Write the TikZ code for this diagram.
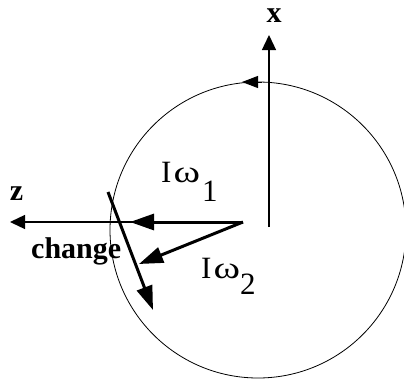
\documentclass[tikz,border=0pt]{standalone}
\usepackage{graphicx}
\usepackage{fontspec}
\setmainfont{Liberation Serif}
\usetikzlibrary{arrows.meta}
\begin{document}
\begin{tikzpicture}[x=1pt,y=-1pt,
  thinax/.style={line width=1.3pt,-{Triangle[length=15pt,width=14pt]}},
  vec/.style={line width=3pt,-{Triangle[length=24pt,width=16pt]}},
  axlbl/.style={font=\fontsize{30}{30}\selectfont\bfseries, inner sep=0pt, anchor=base},
  chglbl/.style={font=\fontsize{30}{30}\selectfont\bfseries, inner sep=0pt, anchor=base west},
  ilbl/.style={font=\fontsize{31}{31}\selectfont, inner sep=0pt, anchor=base west}]
\useasboundingbox (0,0) rectangle (404,380);
\coordinate (C) at (258,230);
\draw[line width=0.8pt] (C) circle[radius=148pt];
% axes
\coordinate (xa) at (269,227);
\coordinate (xt) at (269,35);
\coordinate (za) at (243,222);
\coordinate (zt) at (10,222);
\draw[thinax] (xa) -- (xt);
\draw[thinax] (za) -- (zt);
% rotation arrow on circle
\coordinate (ta) at (262,82);
\coordinate (tt) at (242,82);
\draw[line width=0.9pt,-{Triangle[length=16pt,width=12pt]}] (ta) -- (tt);
% vectors
\coordinate (O) at (243,222);
\coordinate (w1) at (130,222);
\coordinate (w2) at (139,264);
\coordinate (cs) at (108,192);
\coordinate (ce) at (153,310);
\draw[vec] (O) -- (w1);
\draw[vec] (O) -- (w2);
\draw[vec] (cs) -- (ce);
% labels
\node[axlbl] (xl) at (274,23) {x};
\node[axlbl] (zl) at (16.5,200) {z};
\node[chglbl] (chg) at (31,258) {change};
\node[ilbl] (L1) at (161,182) {I\kern2pt\scalebox{1.3}[1]{ω}\kern2pt\raisebox{-19pt}{1}};
\node[ilbl] (L2) at (201,278) {I\kern2pt\scalebox{1.3}[1]{ω}\kern0pt\raisebox{-16pt}{2}};
\end{tikzpicture}
\end{document}
